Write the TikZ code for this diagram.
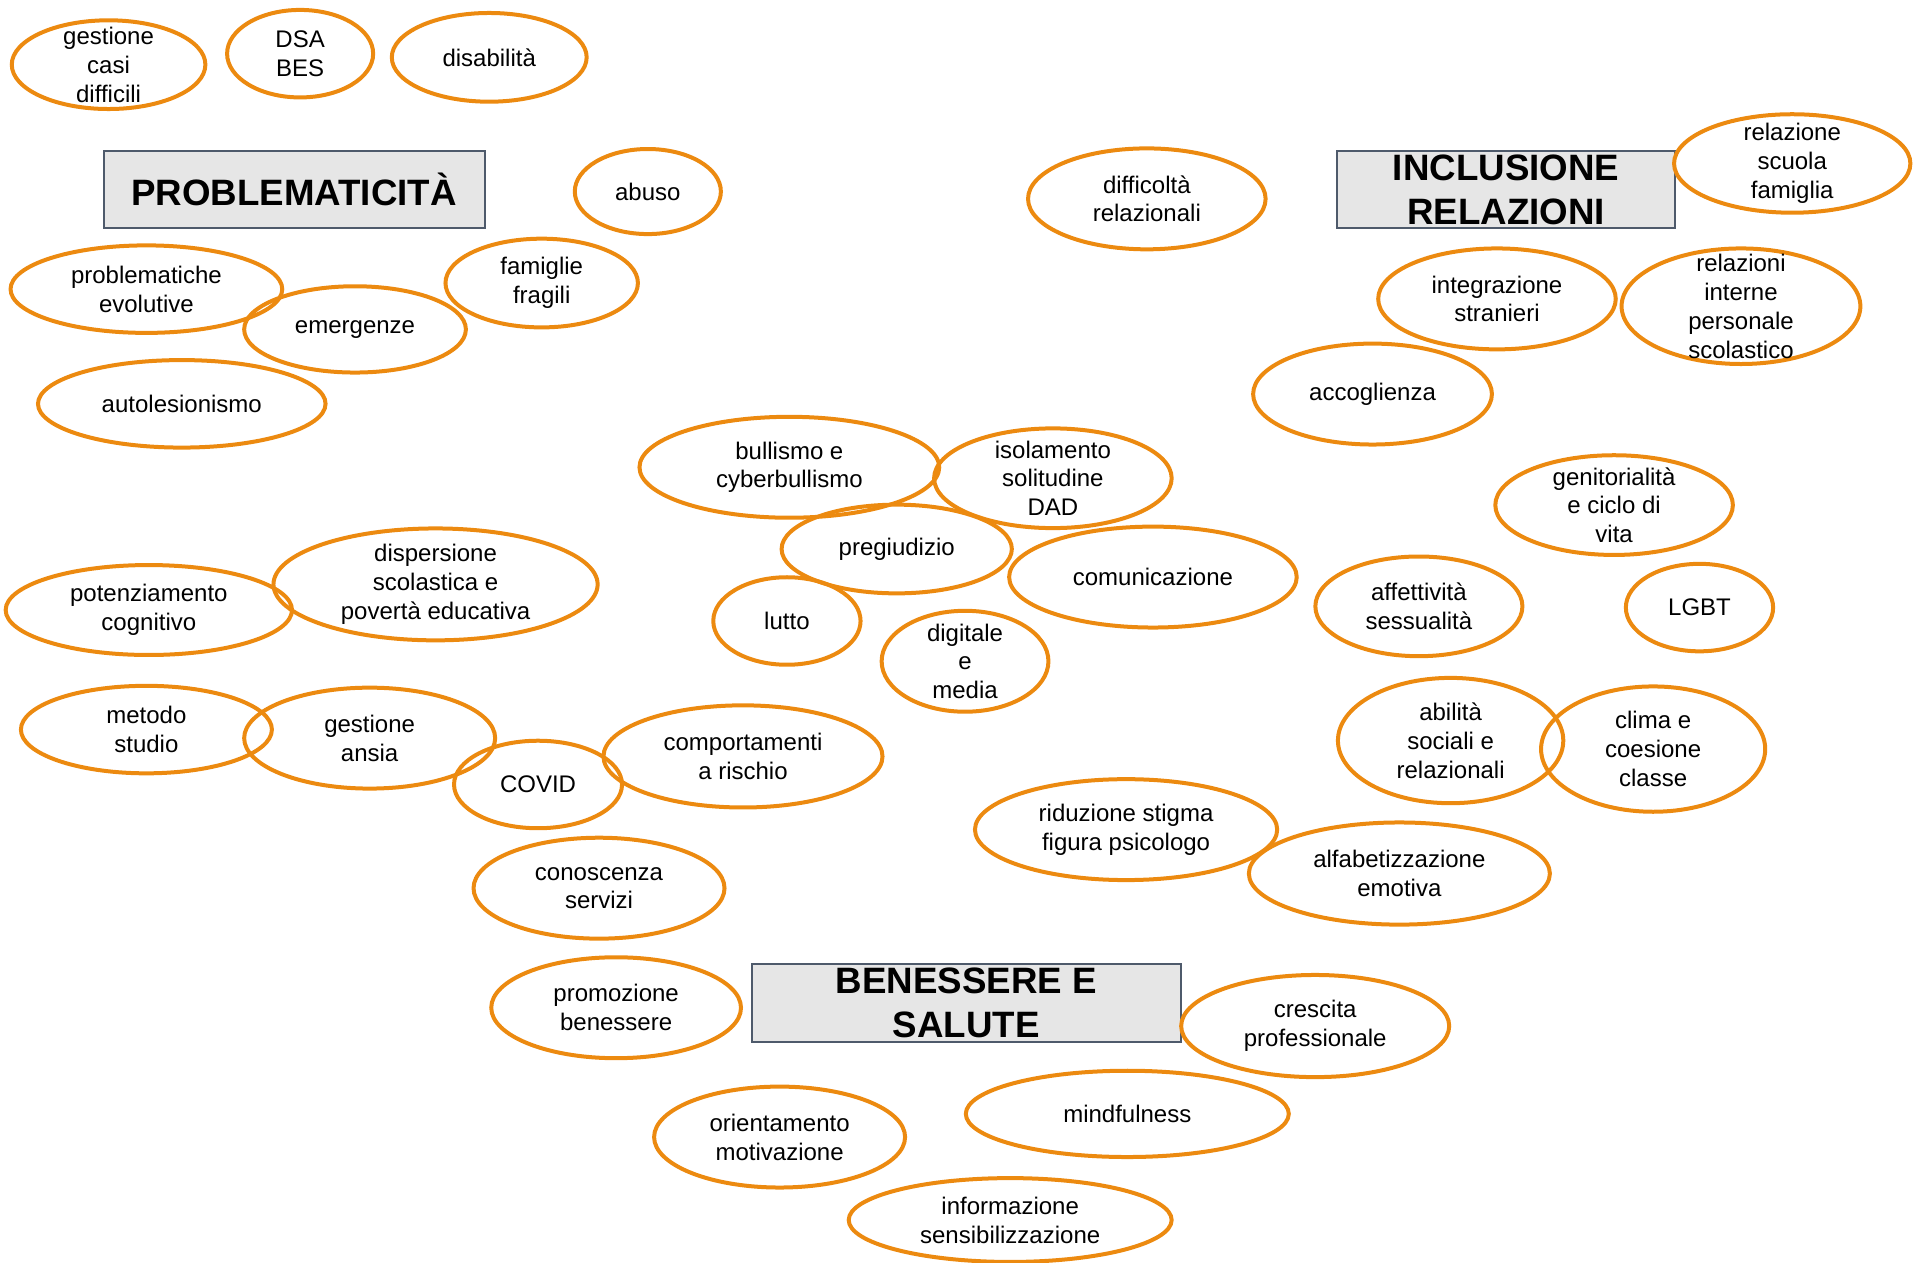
\documentclass[tikz,border=0pt]{standalone}
\usepackage{fontspec}
\setmainfont{Liberation Sans}
\usepackage{tikz}
\usetikzlibrary{shapes.geometric}
\definecolor{arancio}{HTML}{EC8A10}
\definecolor{grigio}{HTML}{E6E6E6}
\definecolor{bordo}{HTML}{4E5A6B}
\tikzstyle{titolo} = [rectangle, draw=bordo, fill=grigio, line width=2pt,
    align=center, inner sep=0pt, font=\bfseries\fontsize{36.7}{44}\selectfont]
\tikzset{bolla/.style 2 args={ellipse, draw=arancio, line width=4pt,
    align=center, inner sep=-15pt, minimum width=#1*1.22pt-4pt, minimum height=#2*1.22pt-4pt,
    font=\fontsize{24}{28.8}\selectfont}}

\begin{document}
\begin{tikzpicture}[x=1.22pt,y=-1.22pt]
    \useasboundingbox (0,0) rectangle (1568,1035);
    % titoli
    \node [titolo, minimum width=381pt, minimum height=77pt] (probl) at (241,155.5) {PROBLEMATICITÀ};
    \node [titolo, minimum width=338pt, minimum height=77pt] (incl) at (1234.5,155.5) {INCLUSIONE\\RELAZIONI};
    \node [titolo, minimum width=429pt, minimum height=78pt] (benes) at (792,822) {BENESSERE E\\SALUTE};

    % problematicita
    \node [bolla={162}{76}] (casi) at (89,53) {gestione\\casi\\difficili};
    \node [bolla={123}{75}] (dsa) at (246,44) {DSA\\BES};
    \node [bolla={163}{76}] (disab) at (401,47) {disabilità};
    \node [bolla={123}{73}] (abuso) at (531,157) {abuso};
    \node [bolla={161}{76}] (famfr) at (444,232) {famiglie\\fragili};
    \node [bolla={226}{75}] (probev) at (120,237) {problematiche\\evolutive};
    \node [bolla={185}{74}] (emerg) at (291,270) {emergenze};
    \node [bolla={239}{75}] (autol) at (149,331) {autolesionismo};
    \node [bolla={269}{95}] (disp) at (357,479) {dispersione\\scolastica e\\povertà educativa};
    \node [bolla={238}{77}] (poten) at (122,500) {potenziamento\\cognitivo};
    \node [bolla={209}{75}] (metodo) at (120,598) {metodo\\studio};
    \node [bolla={209}{86}] (ansia) at (303,605) {gestione\\ansia};
    \node [bolla={141}{75}] (covid) at (441,643) {COVID};
    \node [bolla={232}{87}] (comport) at (609,620) {comportamenti\\a rischio};

    % centro
    \node [bolla={198}{86}] (diffrel) at (940,163) {difficoltà\\relazionali};
    \node [bolla={249}{86}] (bull) at (647,383) {bullismo e\\cyberbullismo};
    \node [bolla={198}{85}] (isol) at (863,392) {isolamento\\solitudine\\DAD};
    \node [bolla={192}{76}] (pregiud) at (735,450) {pregiudizio};
    \node [bolla={239}{86}] (comun) at (945,473) {comunicazione};
    \node [bolla={124}{75}] (lutto) at (645,509) {lutto};
    \node [bolla={140}{86}] (digit) at (791,542) {digitale\\e\\media};

    % inclusione relazioni
    \node [bolla={197}{84}] (rsf) at (1469,134) {relazione\\scuola\\famiglia};
    \node [bolla={198}{86}] (integr) at (1227,245) {integrazione\\stranieri};
    \node [bolla={199}{98}] (relint) at (1427,251) {relazioni\\interne\\personale\\scolastico};
    \node [bolla={199}{86}] (accogl) at (1125,323) {accoglienza};
    \node [bolla={198}{85}] (genit) at (1323,414) {genitorialità\\e ciclo di\\vita};
    \node [bolla={173}{85}] (affett) at (1163,497) {affettività\\sessualità};
    \node [bolla={124}{75}] (lgbt) at (1393,498) {LGBT};
    \node [bolla={188}{106}] (abil) at (1189,607) {abilità\\sociali e\\relazionali};
    \node [bolla={187}{106}] (clima) at (1355,614) {clima e\\coesione\\classe};

    % benessere e salute
    \node [bolla={251}{86}] (stigma) at (923,680) {riduzione stigma\\figura psicologo};
    \node [bolla={250}{87}] (alfab) at (1147,716) {alfabetizzazione\\emotiva};
    \node [bolla={209}{86}] (conosc) at (491,728) {conoscenza\\servizi};
    \node [bolla={208}{86}] (promoz) at (505,826) {promozione\\benessere};
    \node [bolla={223}{87}] (crescita) at (1078,841) {crescita\\professionale};
    \node [bolla={268}{74}] (mindf) at (924,913) {mindfulness};
    \node [bolla={209}{86}] (orient) at (639,932) {orientamento\\motivazione};
    \node [bolla={268}{72}] (inform) at (828,1000) {informazione\\sensibilizzazione};
\end{tikzpicture}
\end{document}
